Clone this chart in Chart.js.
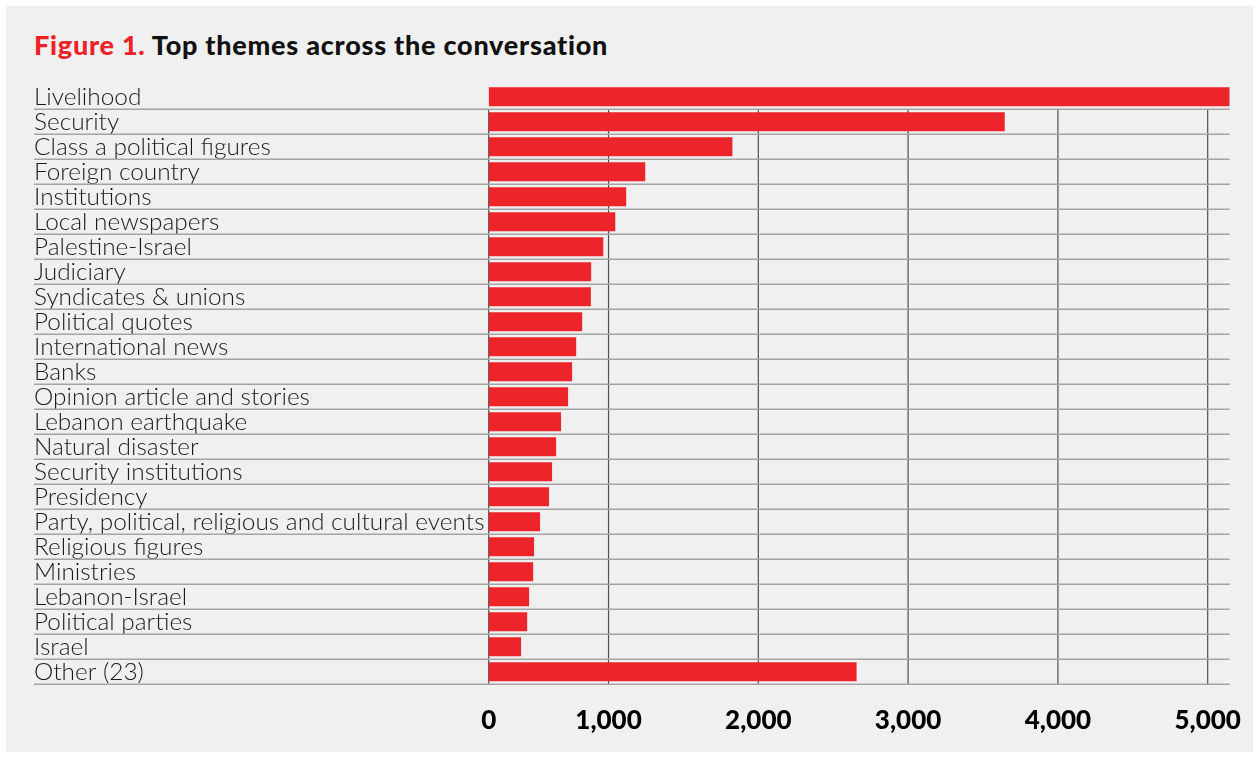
<!DOCTYPE html>
<html>
<head>
<meta charset="utf-8">
<script src="https://cdn.jsdelivr.net/npm/chart.js@4/dist/chart.umd.min.js"></script>
<style>
    body { margin: 0; background: #ffffff; }
    #panel {
        position: absolute; left: 6px; top: 6px;
        width: 1247px; height: 746px;
        background: #f0f0f0;
    }
    #title {
        position: absolute; left: 34px; top: 28.6px;
        font-family: Lato, "Noto Sans", sans-serif;
        font-weight: 900; font-size: 27px; line-height: 32px;
        letter-spacing: 0.75px;
        color: #111111; white-space: nowrap;
    }
    #title span { color: #ed2228; }
    #wrap { position: absolute; left: 0; top: 0; width: 1259px; height: 758px; }
</style>
</head>
<body>
<div id="panel"></div>
<div id="title"><span>Figure 1.</span> Top themes across the conversation</div>
<div id="wrap"><canvas id="myChart" width="1259" height="758"></canvas></div>

<script>
// categories, top to bottom
const themes = [
    "Livelihood",
    "Security",
    "Class a political figures",
    "Foreign country",
    "Institutions",
    "Local newspapers",
    "Palestine-Israel",
    "Judiciary",
    "Syndicates & unions",
    "Political quotes",
    "International news",
    "Banks",
    "Opinion article and stories",
    "Lebanon earthquake",
    "Natural disaster",
    "Security institutions",
    "Presidency",
    "Party, political, religious and cultural events",
    "Religious figures",
    "Ministries",
    "Lebanon-Israel",
    "Political parties",
    "Israel",
    "Other (23)"
];

// number of mentions per theme
const mentions = [
    5147, 3645, 1827, 1245, 1118, 1045, 965, 884, 882, 824, 784, 757,
    730, 683, 650, 623, 603, 543, 503, 497, 470, 457, 416, 2656
];

// the axis of the original starts its "0" line where 200 would be
const xTicks = [200, 1000, 2000, 3000, 4000, 5000];
const xTickLabels = ["0", "1,000", "2,000", "3,000", "4,000", "5,000"];
const xMax = 5147;

const red = "#ed252b";
const rowLineColor = "#a4a4a4";
const gridColor = "#505050";


/**
 * row separators (across the labels too) and vertical grid lines,
 * drawn behind the bars from the chart's own scales
 */
const rowLines = {
    id: "rowLines",
    beforeDatasetsDraw(chart) {
        const ctx = chart.ctx;
        const area = chart.chartArea;
        const x = chart.scales.x;
        const y = chart.scales.y;
        const step = y.getPixelForValue(1) - y.getPixelForValue(0);

        ctx.save();

        // vertical lines, from the first separator down
        const firstSep = y.getPixelForValue(0) + step / 2;
        ctx.strokeStyle = gridColor;
        ctx.lineWidth = 1.2;
        x.ticks.forEach(t => {
            const px = x.getPixelForValue(t.value);
            ctx.beginPath();
            ctx.moveTo(px, firstSep);
            ctx.lineTo(px, area.bottom);
            ctx.stroke();
        });

        // horizontal separators under each row
        ctx.strokeStyle = rowLineColor;
        ctx.lineWidth = 1.5;
        for (let i = 0; i < themes.length; i++) {
            const py = y.getPixelForValue(i) + step / 2;
            ctx.beginPath();
            ctx.moveTo(y.left, py);
            ctx.lineTo(area.right, py);
            ctx.stroke();
        }
        ctx.restore();
    }
};


const ctx = document.getElementById("myChart").getContext("2d");

const myChart = new Chart(ctx, {
    type: "bar",
    data: {
        labels: themes,
        datasets: [{
            data: mentions,
            base: xTicks[0],
            backgroundColor: red,
            borderWidth: 0,
            barPercentage: 0.76,
            categoryPercentage: 1
        }]
    },
    plugins: [rowLines],
    options: {
        indexAxis: "y",
        responsive: false,
        animation: false,
        layout: {
            padding: { left: 34, right: 29.3, top: 84.3, bottom: 0.5 }
        },
        plugins: {
            legend: { display: false },
            title: { display: false },
            tooltip: { enabled: false }
        },
        scales: {
            x: {
                type: "linear",
                min: xTicks[0],
                max: xMax,
                afterBuildTicks: (scale) => {
                    scale.ticks = xTicks.map(v => ({ value: v }));
                },
                // the "5,000" label may hang past the plot, as in the original
                afterFit: (scale) => {
                    scale.paddingRight = 0;
                    scale.paddingLeft = 0;
                },
                grid: { display: false, drawTicks: false },
                border: { display: false },
                ticks: {
                    padding: 21,
                    color: "#000000",
                    font: { family: "Lato", weight: 900, size: 26 },
                    callback: (value) => xTickLabels[xTicks.indexOf(value)]
                }
            },
            y: {
                afterFit: (scale) => { scale.width = 454.7; },
                grid: { display: false, drawTicks: false },
                border: { display: false },
                ticks: {
                    autoSkip: false,
                    crossAlign: "far",
                    padding: 4,
                    color: "#1a1a1a",
                    font: { family: "Lato", weight: 300, size: 24.4 }
                }
            }
        }
    }
});
</script>
</body>
</html>
